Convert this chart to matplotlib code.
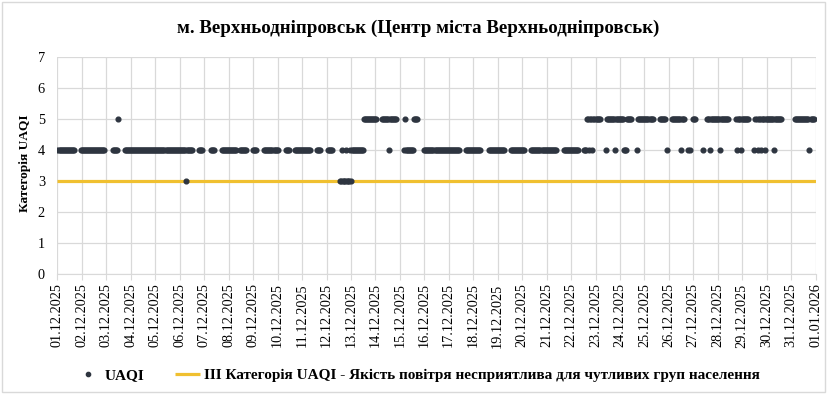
import matplotlib
matplotlib.use("Agg")
import matplotlib.pyplot as plt
import matplotlib.dates as mdates
import numpy as np
import pandas as pd

plt.rcParams["font.family"] = ["Liberation Serif", "DejaVu Serif"]

title = "м. Верхньодніпровськ (Центр міста Верхньодніпровськ)"
ylabel = "Категорія UAQI"
series_label = "UAQI"
limit_label = "III Категорія UAQI - Якість повітря несприятлива для чутливих груп населення"
limit_value = 3

start = pd.Timestamp("2025-12-01 00:00")
end = pd.Timestamp("2026-01-01 00:00")

# hourly readings, (first hour, last hour) since 01.12.2025 00:00
runs_4 = [(0, 16), (23, 46), (54, 58), (66, 132), (139, 142), (151, 154),
          (161, 175), (179, 185), (192, 195), (203, 216), (224, 227),
          (233, 248), (255, 258), (265, 269), (278, 300), (340, 349),
          (360, 394), (401, 415), (423, 438), (445, 458), (465, 489),
          (497, 511), (517, 525)]
runs_5 = [(301, 313), (318, 332), (350, 353), (520, 532), (539, 563),
          (570, 584), (591, 596), (603, 615), (624, 626), (637, 658),
          (666, 678), (684, 710), (724, 742)]
runs_3 = [(277, 288)]
# single readings
hours_5 = [59, 341]
hours_3 = [126]
hours_4 = [279, 283, 287, 325, 522, 525, 538, 547, 556, 557, 558, 569, 598,
           612, 619, 621, 633, 640, 650, 667, 671, 684, 687, 690, 694, 703, 738]

n_hours = int((end - start) / pd.Timedelta(hours=1))
uaqi = np.full(n_hours, np.nan)
for runs, v in [(runs_4, 4), (runs_5, 5), (runs_3, 3)]:
    for a, b in runs:
        uaqi[a:b + 1] = v
for hrs, v in [(hours_5, 5), (hours_3, 3), (hours_4, 4)]:
    uaqi[hrs] = v
times = pd.date_range(start, periods=n_hours, freq="h")

fig = plt.figure(figsize=(8.32, 3.94), dpi=100)
ax = fig.add_axes([0.0691, 0.3053, 0.9112, 0.5508])

ax.plot([start, end], [limit_value, limit_value], color="#F0C030", lw=2.3,
        label=limit_label, zorder=2, solid_capstyle="butt")
ax.plot(times, uaqi, "o", ms=3.4, color="#2E3540", label=series_label,
        zorder=3, linestyle="none")

ax.set_xlim(start, end)
ax.set_ylim(0, 7)
ax.set_yticks(range(0, 8))
ax.xaxis.set_major_locator(mdates.DayLocator())
ax.xaxis.set_major_formatter(mdates.DateFormatter("%d.%m.%Y"))
plt.setp(ax.get_xticklabels(), rotation=90, fontsize=10.3)
plt.setp(ax.get_yticklabels(), fontsize=10.3)
ax.tick_params(axis="x", length=4, color="#d9d9d9", pad=3)
ax.tick_params(axis="y", length=0, pad=9)

ax.grid(True, color="#d9d9d9", lw=0.9)
ax.set_axisbelow(True)
for s in ["top", "right", "left"]:
    ax.spines[s].set_visible(False)
ax.spines["bottom"].set_color("#d9d9d9")

fig.text(0.503, 0.928, title, ha="center", va="center", fontsize=13.6,
         fontweight="bold")
fig.text(0.03, 0.585, ylabel, rotation=90, ha="center", va="center",
         fontsize=9.6, fontweight="bold")

h, l = ax.get_legend_handles_labels()
fig.legend(h[::-1], l[::-1], loc="center", bbox_to_anchor=(0.5025, 0.048), ncol=2,
           frameon=False, prop={"weight": "bold", "size": 11},
           handlelength=1.6, handletextpad=0.3, columnspacing=2.0,
           markerscale=0.9)

fig.patches.append(plt.Rectangle((0.002, 0.004), 0.99, 0.992, fill=False,
                                 edgecolor="#d9d9d9", lw=1,
                                 transform=fig.transFigure, figure=fig))

fig.savefig("out.png", dpi=100)
